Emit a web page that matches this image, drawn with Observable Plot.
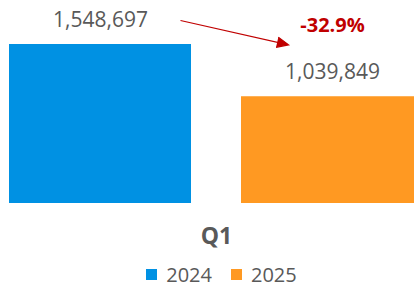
<!DOCTYPE html>
<html>
<head>
<meta charset="utf-8">
<script src="https://cdn.jsdelivr.net/npm/d3@7"></script>
<script src="https://cdn.jsdelivr.net/npm/@observablehq/plot@0.6"></script>
<style>
  html, body { margin: 0; padding: 0; background: #fff; overflow: hidden; }
  #legend { display: flex; justify-content: center; align-items: center; height: 29px; padding-left: 29px; margin-top: 2px;
    font-family: "Open Sans", sans-serif; font-size: 20px; color: #595959; }
  .sw { width: 11px; height: 11px; display: inline-block; margin-right: 9px; }
  .item { display: flex; align-items: center; margin-right: 19px; }
  .item:last-child { margin-right: 0; }
</style>
</head>
<body>
<div id="chart"></div>
<div id="legend"></div>
<script>
const years = ["2024", "2025"];
const values = [1548697, 1039849];
const colors = ["#0091E3", "#FF9922"];
const category = "Q1";

const data = years.map((y, i) => ({year: y, value: values[i]}));
const change = values[1] / values[0] - 1;
const locale = d3.formatLocale({decimal: ".", thousands: ",", grouping: [3], currency: ["$", ""], minus: "-"});
const pctLabel = locale.format(".1%")(change);
const font = "Open Sans";

const plot = Plot.plot({
  width: 414,
  height: 258,
  marginLeft: 9,
  marginRight: -9,
  marginTop: 44,
  marginBottom: 55,
  style: {fontFamily: font, background: "transparent"},
  x: {domain: years, paddingInner: 50 / 232, paddingOuter: 0, axis: null},
  y: {domain: [0, d3.max(values)], axis: null},
  color: {domain: years, range: colors},
  marks: [
    Plot.barY(data, {x: "year", y: "value", fill: "year"}),
    Plot.text(data, {x: "year", y: "value", text: d => locale.format(",")(d.value), dy: -24, fontSize: 21, fill: "#595959", fontFamily: font}),
    Plot.text([pctLabel], {x: () => years[1], y: () => values[0], text: d => d, dy: -19, fontSize: 20, fontWeight: "bold", fill: "#C00000", fontFamily: font}),
    Plot.arrow([0], {x1: () => years[0], y1: () => values[0], x2: () => years[1], y2: () => values[1],
      dy: -42, insetStart: 82, insetEnd: 45, stroke: "#C00000", fill: "#C00000", strokeWidth: 1.2,
      headLength: 16, headAngle: 48, strokeMiterlimit: 4, strokeLinecap: "butt"}),
    Plot.text([category], {frameAnchor: "bottom", dy: 40.5, text: d => d, fontSize: 23, fontWeight: "bold", fill: "#595959", fontFamily: font})
  ]
});
document.getElementById("chart").appendChild(plot);

const legend = document.getElementById("legend");
years.forEach((y, i) => {
  const item = document.createElement("span");
  item.className = "item";
  const sw = document.createElement("span");
  sw.className = "sw";
  sw.style.background = colors[i];
  item.appendChild(sw);
  item.appendChild(document.createTextNode(y));
  legend.appendChild(item);
});
</script>
</body>
</html>
